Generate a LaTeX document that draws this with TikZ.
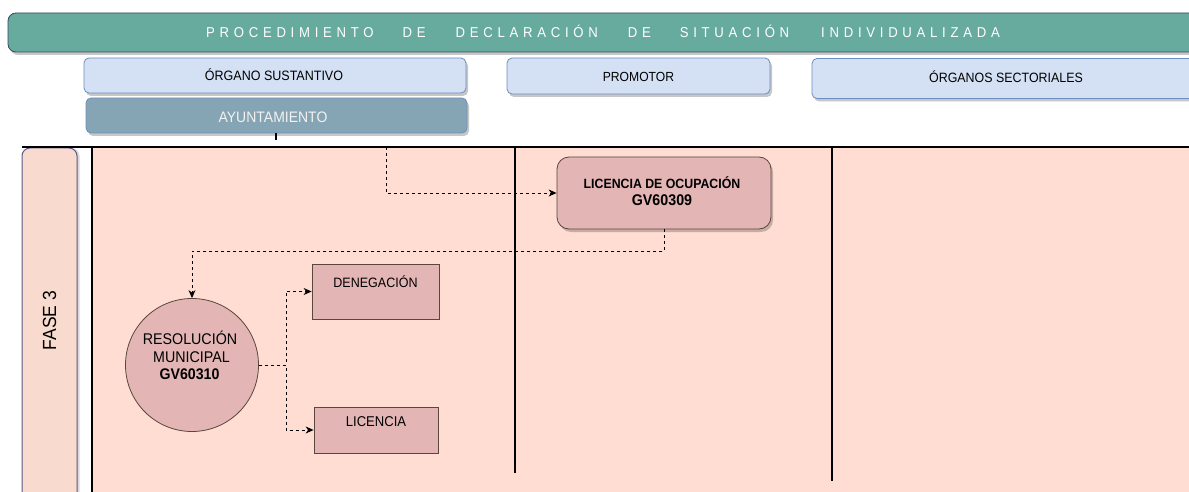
\documentclass[tikz,border=0pt]{standalone}
\usepackage{fontspec}
\setmainfont{Liberation Sans}[FakeStretch=0.92]
\newfontfamily\titlefont{Liberation Sans}[FakeStretch=0.92,LetterSpace=33]
\usetikzlibrary{shadows,arrows.meta}
\definecolor{titlegreen}{HTML}{67AB9F}
\definecolor{titleline}{HTML}{34495E}
\definecolor{hdrfill}{HTML}{D4E1F5}
\definecolor{hdrline}{HTML}{6C8EBF}
\definecolor{ayfill}{HTML}{85A5B4}
\definecolor{lanefill}{HTML}{FFDDD2}
\definecolor{fasefill}{HTML}{F8DACE}
\definecolor{faseline}{HTML}{5D5A88}
\definecolor{pinkfill}{HTML}{E3B5B5}
\definecolor{pinkline}{HTML}{5A463A}
\tikzset{
  shad/.style={drop shadow={shadow xshift=2pt,shadow yshift=-3pt,fill=black,opacity=0.22}},
  hdrbox/.style={draw=hdrline,fill=hdrfill,rounded corners=5pt,line width=0.8pt,inner sep=0pt,shad},
  pinkbox/.style={draw=pinkline,fill=pinkfill,line width=0.8pt,inner sep=0pt},
  lbl/.style={anchor=base,inner sep=0pt,text=black},
  lane/.style={draw=black,line width=1.6pt},
  conn/.style={draw=black,line width=0.9pt,dash pattern=on 3pt off 3pt,-{Stealth[length=8pt,width=7pt,inset=2.5pt]}},
}
\begin{document}
\begin{tikzpicture}[x=1pt,y=-1pt]
\useasboundingbox (0,0) rectangle (1189,492);
\clip (0,0) rectangle (1189,492);
% title bar
\node[draw=titleline,fill=titlegreen,rounded corners=8pt,line width=0.8pt,inner sep=0pt,shad,
      minimum width=1200pt,minimum height=39pt] (titlebar) at (608,32.5) {};
\node[lbl,text=white,font=\titlefont\fontsize{14.3}{16}\selectfont] (ttl) at (603,38)
  {PROCEDIMIENTO\hspace{29pt}DE\hspace{30pt}DECLARACIÓN\hspace{30pt}DE\hspace{29pt}SITUACIÓN\hspace{32pt}INDIVIDUALIZADA};
% header boxes
\node[hdrbox,minimum width=382pt,minimum height=35pt] (os) at (275,75.5) {};
\node[lbl,font=\fontsize{13.6}{16}\selectfont] (ost) at (274,81) {ÓRGANO SUSTANTIVO};
\node[hdrbox,fill=ayfill,minimum width=381pt,minimum height=35pt] (ay) at (276.5,115.5) {};
\node[lbl,text=white!95!black,font=\fontsize{15.2}{18}\selectfont] (ayt) at (273,122.5) {AYUNTAMIENTO};
\node[hdrbox,minimum width=263pt,minimum height=36pt] (pr) at (638.5,76) {};
\node[lbl,font=\fontsize{13.2}{16}\selectfont] (prt) at (638.5,81.5) {PROMOTOR};
\node[hdrbox,minimum width=390pt,minimum height=40pt] (sec) at (1007,78.5) {};
\node[lbl,font=\fontsize{13.5}{16}\selectfont] (sect) at (1006,83) {ÓRGANOS SECTORIALES};
% tick under ayuntamiento
\coordinate (tk1) at (276,133);
\coordinate (tk2) at (276,140);
\draw[black,line width=1.5pt] (tk1) -- (tk2);
% lane area
\fill[lanefill] (92,147) rectangle (1189,492);
\node[draw=faseline,fill=fasefill,rounded corners=8pt,line width=1pt,inner sep=0pt,
      drop shadow={shadow xshift=2.5pt,shadow yshift=0pt,fill=black,opacity=0.15},
      minimum width=55pt,minimum height=360pt] (fasebox) at (49.5,328) {};
\node[rotate=90,inner sep=0pt,font=\fontsize{19}{22}\selectfont] (fase) at (49.5,320.5) {FASE 3};
\coordinate (tl1) at (22,147);
\coordinate (tl2) at (1189,147);
\draw[black,line width=1.5pt] (tl1) -- (tl2);
\coordinate (l0a) at (92,147);
\coordinate (l0b) at (92,492);
\draw[black,line width=2pt] (l0a) -- (l0b);
\coordinate (l1a) at (515,147);
\coordinate (l1b) at (515,473);
\draw[lane] (l1a) -- (l1b);
\coordinate (l2a) at (832,147);
\coordinate (l2b) at (832,481);
\draw[lane] (l2a) -- (l2b);
% nodes
\node[pinkbox,rounded corners=12pt,shad,minimum width=214pt,minimum height=72pt] (lic) at (664,193) {};
\node[lbl,font=\bfseries\fontsize{13.4}{16}\selectfont] (lict1) at (662,189) {LICENCIA DE OCUPACIÓN};
\node[lbl,font=\bfseries\fontsize{15.5}{18}\selectfont] (lict2) at (662,205.5) {GV60309};
\node[pinkbox,circle,minimum size=133pt] (res) at (192,365) {};
\node[lbl,font=\fontsize{15.5}{18}\selectfont] (rest1) at (190,344) {RESOLUCIÓN};
\node[lbl,font=\fontsize{15.5}{18}\selectfont] (rest2) at (191.5,362.5) {MUNICIPAL};
\node[lbl,font=\bfseries\fontsize{15.4}{18}\selectfont] (rest3) at (189.5,379.3) {GV60310};
\node[pinkbox,minimum width=127pt,minimum height=55pt] (den) at (375.5,291.5) {};
\node[lbl,font=\fontsize{13.6}{16}\selectfont] (dent) at (375.5,287) {DENEGACIÓN};
\node[pinkbox,minimum width=124pt,minimum height=46pt] (licb) at (376,430) {};
\node[lbl,font=\fontsize{14.2}{16}\selectfont] (licbt) at (376,426.5) {LICENCIA};
% connectors
\coordinate (top) at (386,147);
\draw[conn] (top) |- (lic.west);
\draw[conn] (lic.south) -- ++(0,22) -| (res.north);
\coordinate (j) at (286,365);
\draw[conn] (res.east) -- (j) |- (den.west);
\draw[conn] (res.east) -- (j) |- (licb.west);
\end{tikzpicture}
\end{document}
